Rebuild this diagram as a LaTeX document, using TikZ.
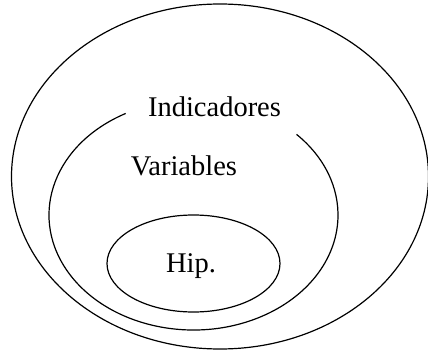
\documentclass[tikz,border=0pt]{standalone}
\usepackage{fontspec}
\setmainfont{Liberation Serif}
\begin{document}
\begin{tikzpicture}[x=1pt,y=-1pt,
  ring/.style={draw=black,line width=1.2pt},
  lbl/.style={font=\fontsize{28.5}{30}\selectfont,inner sep=0pt,anchor=base}]
\useasboundingbox (0,0) rectangle (428,350);
\draw[ring] (220,176.5) ellipse [x radius=208.5, y radius=172.5];
\draw[ring] (193.5,215) ++(118:144.5 and -115) arc [start angle=118, end angle=404.5, x radius=144.5, y radius=-115];
\draw[ring] (193.5,263.5) ellipse [x radius=86.5, y radius=48.5];
\node[lbl] (ind) at (214.5,117) {Indicadores};
\node[lbl] (var) at (184,175) {Variables};
\node[lbl] (hip) at (191,272) {Hip.};
\end{tikzpicture}
\end{document}
